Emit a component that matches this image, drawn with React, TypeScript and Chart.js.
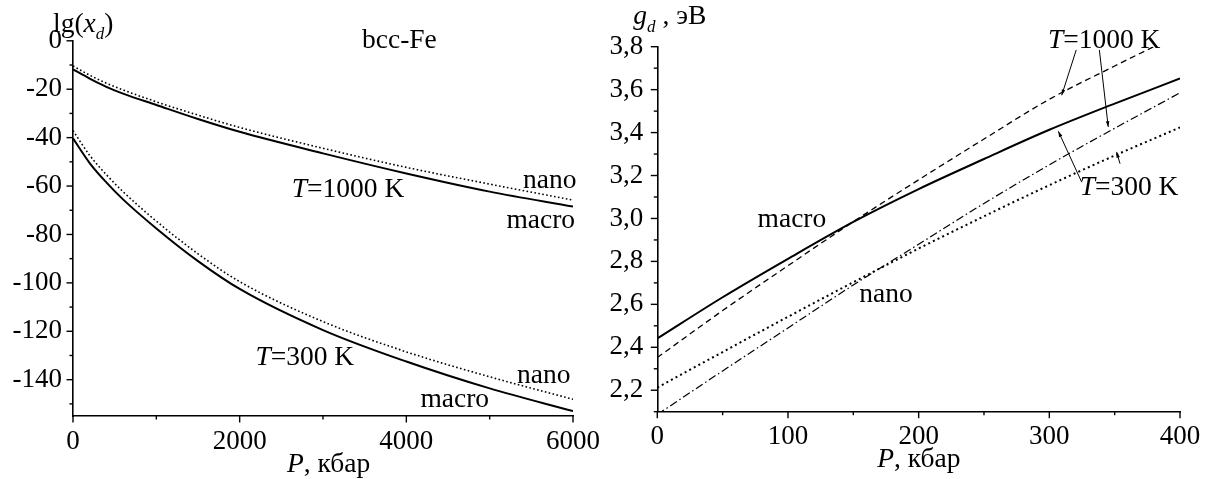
import React, { useEffect, useRef } from "react";
import { Chart, registerables } from "chart.js";

Chart.register(...registerables);

const SERIF = "'Liberation Serif', 'Times New Roman', Times, serif";

// ---------- Left panel: lg(x_d) vs P (bcc-Fe) ----------
const LEFT_P = [0, 200, 400, 600, 1000, 1500, 2000, 3000, 4000, 5000, 6000];
const LG_MACRO_1000 = [-11.8, -15.6, -19.0, -21.8, -26.5, -32.3, -37.6, -46.5, -54.8, -62.3, -68.5];
const LG_NANO_1000 = [-10.4, -14.2, -17.5, -20.3, -25.2, -30.7, -35.8, -44.4, -52.3, -59.2, -65.8];
const LG_MACRO_300 = [-40.3, -50.5, -58.5, -65.5, -77.5, -91.0, -102.5, -119.5, -132.5, -143.6, -153.0];
const LG_NANO_300 = [-37.1, -47.3, -55.3, -62.3, -74.5, -88.0, -99.5, -116.0, -128.5, -138.8, -148.1];
const LEFT_X_MAJOR = [0, 2000, 4000, 6000];
const LEFT_X_MINOR = [1000, 3000, 5000];
const LEFT_Y_MAJOR = [0, -20, -40, -60, -80, -100, -120, -140];
const LEFT_Y_MINOR = [-10, -30, -50, -70, -90, -110, -130, -150];

// ---------- Right panel: g_d vs P ----------
const RIGHT_P = [0, 50, 100, 150, 200, 250, 300, 350, 400];
const G_MACRO_300 = [2.441, 2.633, 2.812, 2.984, 3.137, 3.277, 3.413, 3.535, 3.652];
const G_MACRO_1000 = [2.352, 2.571, 2.78, 2.985, 3.18, 3.37, 3.555, 3.71, 3.86];
const G_NANO_1000 = [2.087, 2.29, 2.49, 2.69, 2.88, 3.07, 3.25, 3.42, 3.585];
const G_NANO_300 = [2.212, 2.378, 2.542, 2.703, 2.86, 3.01, 3.155, 3.293, 3.424];
const RIGHT_X_MAJOR = [0, 100, 200, 300, 400];
const RIGHT_X_MINOR = [50, 150, 250, 350];
const RIGHT_Y_MAJOR = [2.2, 2.4, 2.6, 2.8, 3.0, 3.2, 3.4, 3.6, 3.8];
const RIGHT_Y_MINOR = [2.1, 2.3, 2.5, 2.7, 2.9, 3.1, 3.3, 3.5, 3.7];

type Part = { t: string; italic?: boolean; sub?: boolean };
type Note = { parts: Part[]; x: number; y: number };
type Arrow = { x1: number; y1: number; x2: number; y2: number };

const T1000: Part[] = [{ t: "T", italic: true }, { t: "=1000 K" }];
const T300: Part[] = [{ t: "T", italic: true }, { t: "=300 K" }];

const LEFT_NOTES: Note[] = [
  { parts: [{ t: "bcc-Fe" }], x: 3917, y: -3.0 },
  { parts: T1000, x: 3301, y: -64.4 },
  { parts: [{ t: "nano" }], x: 5722, y: -61.0 },
  { parts: [{ t: "macro" }], x: 5613, y: -77.5 },
  { parts: T300, x: 2782, y: -134.0 },
  { parts: [{ t: "nano" }], x: 5649, y: -141.5 },
  { parts: [{ t: "macro" }], x: 4581, y: -151.2 },
];

const RIGHT_NOTES: Note[] = [
  { parts: [{ t: "macro" }], x: 103, y: 2.961 },
  { parts: [{ t: "nano" }], x: 175, y: 2.61 },
  { parts: T1000, x: 342, y: 3.793 },
  { parts: T300, x: 361, y: 3.107 },
];

const RIGHT_ARROWS: Arrow[] = [
  { x1: 320.6, y1: 3.785, x2: 309.5, y2: 3.574 },
  { x1: 338.3, y1: 3.785, x2: 345.1, y2: 3.426 },
  { x1: 324.8, y1: 3.169, x2: 306.9, y2: 3.406 },
  { x1: 354.1, y1: 3.255, x2: 351.5, y2: 3.31 },
];

const NOTE_SIZE = 27.5;
const TICK_SIZE = 27;

function fontOf(p: Part, size: number) {
  const s = p.sub ? Math.round(size * 0.6) : size;
  return `${p.italic ? "italic " : ""}${s}px ${SERIF}`;
}

function drawRich(ctx: CanvasRenderingContext2D, parts: Part[], x: number, y: number, size: number, align: "left" | "center") {
  const widths = parts.map((p) => {
    ctx.font = fontOf(p, size);
    return ctx.measureText(p.t).width;
  });
  const total = widths.reduce((a, b) => a + b, 0);
  let cx = align === "center" ? x - total / 2 : x;
  ctx.textAlign = "left";
  ctx.textBaseline = "alphabetic";
  parts.forEach((p, i) => {
    ctx.font = fontOf(p, size);
    ctx.fillText(p.t, cx, y + (p.sub ? size * 0.27 : 0));
    cx += widths[i];
  });
}

type Decor = {
  xMajor: number[];
  xMinor: number[];
  yMajor: number[];
  yMinor: number[];
  notes: Note[];
  arrows: Arrow[];
  yTitle: { parts: Part[]; dx: number; dy: number };
  xTitle: { parts: Part[]; dx: number; dy: number };
};

function decorPlugin(d: Decor) {
  return {
    id: "decor",
    afterDraw(chart: any) {
      const ctx: CanvasRenderingContext2D = chart.ctx;
      const xs = chart.scales.x;
      const ys = chart.scales.y;
      const a = chart.chartArea;
      ctx.save();
      ctx.strokeStyle = "#000";
      ctx.fillStyle = "#000";
      ctx.lineWidth = 1.4;
      ctx.lineCap = "butt";
      const seg = (x1: number, y1: number, x2: number, y2: number) => {
        ctx.beginPath();
        ctx.moveTo(x1, y1);
        ctx.lineTo(x2, y2);
        ctx.stroke();
      };
      d.xMajor.forEach((v) => {
        const px = xs.getPixelForValue(v);
        seg(px, a.bottom, px, a.bottom + 6.5);
      });
      d.xMinor.forEach((v) => {
        const px = xs.getPixelForValue(v);
        seg(px, a.bottom, px, a.bottom + 3.5);
      });
      d.yMajor.forEach((v) => {
        const py = ys.getPixelForValue(v);
        seg(a.left, py, a.left - 6.5, py);
      });
      d.yMinor.forEach((v) => {
        const py = ys.getPixelForValue(v);
        seg(a.left, py, a.left - 3.5, py);
      });
      d.notes.forEach((n) => {
        drawRich(ctx, n.parts, xs.getPixelForValue(n.x), ys.getPixelForValue(n.y), NOTE_SIZE, "center");
      });
      ctx.lineWidth = 1;
      d.arrows.forEach((ar) => {
        const x1 = xs.getPixelForValue(ar.x1);
        const y1 = ys.getPixelForValue(ar.y1);
        const x2 = xs.getPixelForValue(ar.x2);
        const y2 = ys.getPixelForValue(ar.y2);
        seg(x1, y1, x2, y2);
        const ang = Math.atan2(y2 - y1, x2 - x1);
        const L = 6;
        const W = 0.3;
        ctx.beginPath();
        ctx.moveTo(x2, y2);
        ctx.lineTo(x2 - L * Math.cos(ang - W), y2 - L * Math.sin(ang - W));
        ctx.lineTo(x2 - L * Math.cos(ang + W), y2 - L * Math.sin(ang + W));
        ctx.closePath();
        ctx.fill();
      });
      drawRich(ctx, d.yTitle.parts, a.left + d.yTitle.dx, a.top + d.yTitle.dy, NOTE_SIZE, "left");
      drawRich(ctx, d.xTitle.parts, a.left + d.xTitle.dx, a.bottom + d.xTitle.dy, NOTE_SIZE, "left");
      ctx.restore();
    },
  };
}

const pts = (xs: number[], ys: number[]) => xs.map((x, i) => ({ x, y: ys[i] }));

type PanelCfg = {
  datasets: any[];
  xMin: number;
  xMax: number;
  yMin: number;
  yMax: number;
  xMajor: number[];
  yMajor: number[];
  yFmt: (v: number) => string;
  yWidth: number;
  xHeight: number;
  padTop: number;
  padRight: number;
  yPad: number;
  xPad: number;
  decor: Decor;
};

function makeChart(canvas: HTMLCanvasElement, c: PanelCfg) {
  const tickFont = { family: SERIF, size: TICK_SIZE };
  return new Chart(canvas, {
    type: "line",
    data: { datasets: c.datasets },
    options: {
      animation: false,
      responsive: false,
      maintainAspectRatio: false,
      events: [],
      layout: { padding: { top: c.padTop, right: c.padRight, left: 0, bottom: 0 } },
      plugins: { legend: { display: false }, tooltip: { enabled: false }, title: { display: false } },
      elements: { point: { radius: 0 }, line: { fill: false } },
      scales: {
        x: {
          type: "linear",
          min: c.xMin,
          max: c.xMax,
          grid: { display: false, drawTicks: false },
          border: { display: true, color: "#000", width: 1.6 },
          ticks: { font: tickFont, color: "#000", padding: c.xPad, maxRotation: 0, callback: (v: any) => String(v) },
          afterBuildTicks: (s: any) => {
            s.ticks = c.xMajor.map((v) => ({ value: v }));
          },
          afterFit: (s: any) => {
            s.height = c.xHeight;
          },
        },
        y: {
          type: "linear",
          min: c.yMin,
          max: c.yMax,
          grid: { display: false, drawTicks: false },
          border: { display: true, color: "#000", width: 1.6 },
          ticks: { font: tickFont, color: "#000", padding: c.yPad, callback: (v: any) => c.yFmt(Number(v)) },
          afterBuildTicks: (s: any) => {
            s.ticks = c.yMajor.map((v) => ({ value: v }));
          },
          afterFit: (s: any) => {
            s.width = c.yWidth;
          },
        },
      },
    } as any,
    plugins: [decorPlugin(c.decor) as any],
  });
}

const solid = (data: any, w = 2) => ({
  data,
  borderColor: "#000",
  borderWidth: w,
  pointRadius: 0,
  cubicInterpolationMode: "monotone",
  clip: 0,
});
const dashed = (data: any, dash: number[], w: number) => ({
  data,
  borderColor: "#000",
  borderWidth: w,
  borderDash: dash,
  borderCapStyle: "butt",
  pointRadius: 0,
  cubicInterpolationMode: "monotone",
  clip: 0,
});

export default function App() {
  const leftRef = useRef<HTMLCanvasElement>(null);
  const rightRef = useRef<HTMLCanvasElement>(null);

  useEffect(() => {
    const left = makeChart(leftRef.current!, {
      datasets: [
        solid(pts(LEFT_P, LG_MACRO_1000)),
        dashed(pts(LEFT_P, LG_NANO_1000), [1.6, 2.4], 1.6),
        solid(pts(LEFT_P, LG_MACRO_300)),
        dashed(pts(LEFT_P, LG_NANO_300), [1.6, 2.4], 1.6),
      ],
      xMin: 0,
      xMax: 6000,
      yMin: -155,
      yMax: 0,
      xMajor: LEFT_X_MAJOR,
      yMajor: LEFT_Y_MAJOR,
      yFmt: (v) => String(v),
      yWidth: 73,
      xHeight: 63,
      padTop: 40.8,
      padRight: 32.7,
      yPad: 11,
      xPad: 10,
      decor: {
        xMajor: LEFT_X_MAJOR,
        xMinor: LEFT_X_MINOR,
        yMajor: LEFT_Y_MAJOR,
        yMinor: LEFT_Y_MINOR,
        notes: LEFT_NOTES,
        arrows: [],
        yTitle: { parts: [{ t: "lg(" }, { t: "x", italic: true }, { t: "d", italic: true, sub: true }, { t: ")" }], dx: -20, dy: -9 },
        xTitle: { parts: [{ t: "P", italic: true }, { t: ", кбар" }], dx: 214, dy: 56 },
      },
    });
    const right = makeChart(rightRef.current!, {
      datasets: [
        solid(pts(RIGHT_P, G_MACRO_300)),
        dashed(pts(RIGHT_P, G_MACRO_1000), [6, 4], 1.3),
        dashed(pts(RIGHT_P, G_NANO_1000), [8, 3, 1.5, 3], 1.2),
        dashed(pts(RIGHT_P, G_NANO_300), [2, 3.2], 2),
      ],
      xMin: 0,
      xMax: 400,
      yMin: 2.1,
      yMax: 3.8,
      xMajor: RIGHT_X_MAJOR,
      yMajor: RIGHT_Y_MAJOR,
      yFmt: (v) => v.toFixed(1).replace(".", ","),
      yWidth: 47.3,
      xHeight: 67.3,
      padTop: 46.7,
      padRight: 30,
      yPad: 14,
      xPad: 9,
      decor: {
        xMajor: RIGHT_X_MAJOR,
        xMinor: RIGHT_X_MINOR,
        yMajor: RIGHT_Y_MAJOR,
        yMinor: RIGHT_Y_MINOR,
        notes: RIGHT_NOTES,
        arrows: RIGHT_ARROWS,
        yTitle: { parts: [{ t: "g", italic: true }, { t: "d", italic: true, sub: true }, { t: " , эВ" }], dx: -24, dy: -22.5 },
        xTitle: { parts: [{ t: "P", italic: true }, { t: ", кбар" }], dx: 220, dy: 55.5 },
      },
    });
    return () => {
      left.destroy();
      right.destroy();
    };
  }, []);

  return (
    <div style={{ position: "absolute", left: 0, top: 0, width: 1210, height: 479, background: "#fff" }}>
      <canvas ref={leftRef} width={610} height={479} style={{ position: "absolute", left: 0, top: 0, width: 610, height: 479 }} />
      <canvas ref={rightRef} width={600} height={479} style={{ position: "absolute", left: 610, top: 0, width: 600, height: 479 }} />
    </div>
  );
}
